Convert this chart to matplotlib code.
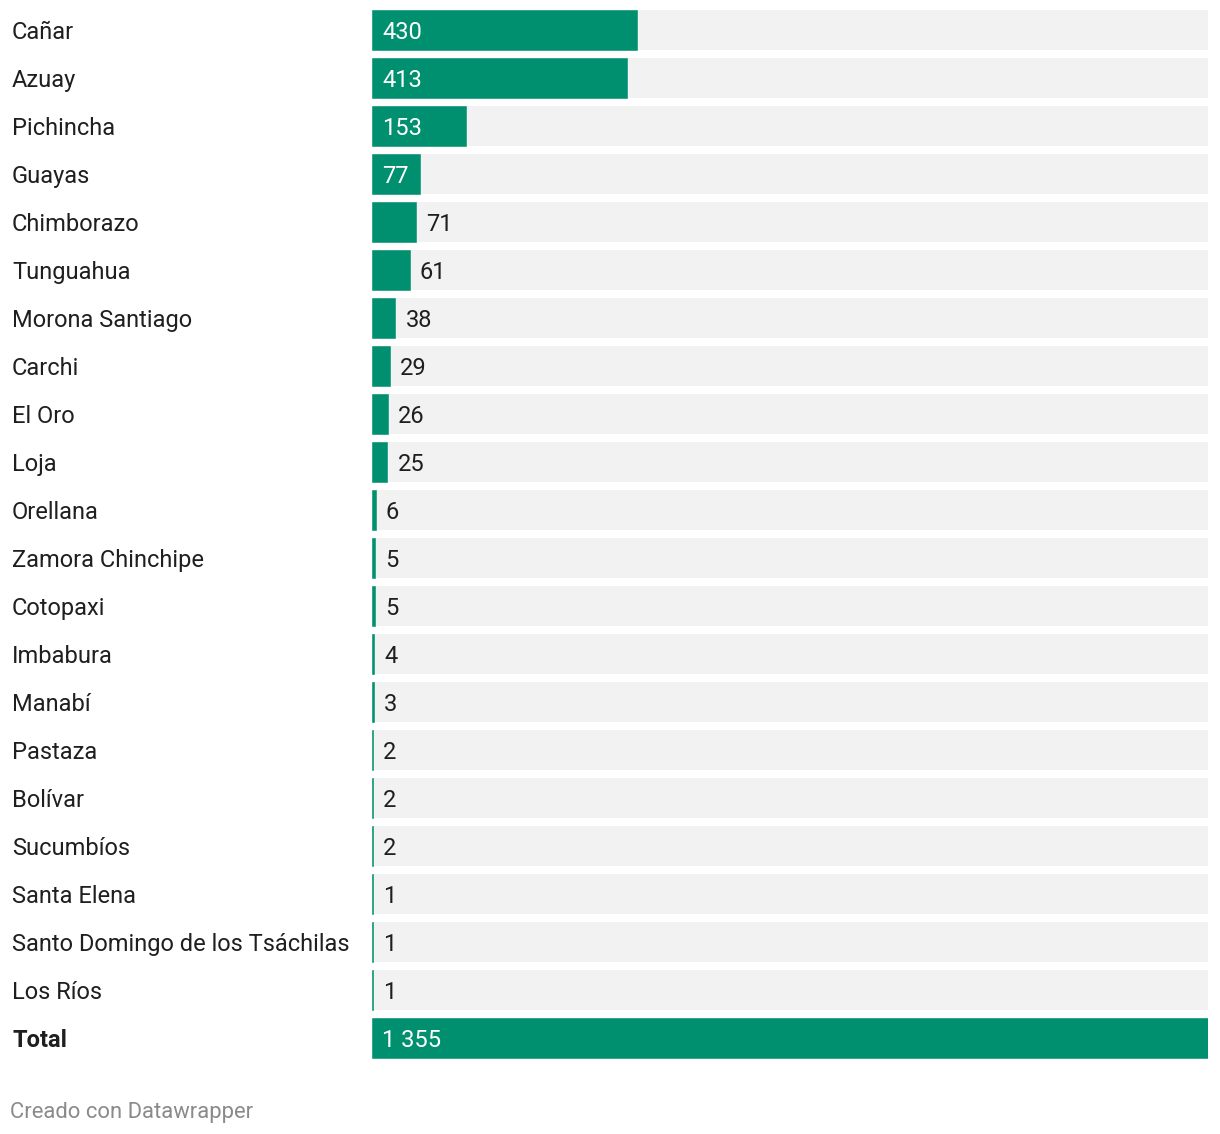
import numpy as np
import matplotlib
matplotlib.use("Agg")
import matplotlib.pyplot as plt

plt.rcParams['font.family'] = ['Roboto', 'DejaVu Sans']

# Datos: casos por provincia
provincias = ['Cañar', 'Azuay', 'Pichincha', 'Guayas', 'Chimborazo', 'Tunguahua',
              'Morona Santiago', 'Carchi', 'El Oro', 'Loja', 'Orellana',
              'Zamora Chinchipe', 'Cotopaxi', 'Imbabura', 'Manabí', 'Pastaza',
              'Bolívar', 'Sucumbíos', 'Santa Elena', 'Santo Domingo de los Tsáchilas',
              'Los Ríos', 'Total']
valores = [430, 413, 153, 77, 71, 61, 38, 29, 26, 25, 6, 5, 5, 4, 3, 2, 2, 2, 1, 1, 1, 1355]

verde = '#00906f'
fondo = '#f2f2f2'
texto = '#1f1f1f'

W, H = 1220, 1134
fig = plt.figure(figsize=(W / 100, H / 100), dpi=100)
# eje en coordenadas de pixeles
ax = fig.add_axes([372 / W, (H - 1062) / H, (1208 - 372) / W, 1056 / H])

n = len(valores)
y = np.arange(n)
vmax = max(valores)
alto = 40 / 48

ax.barh(y, [vmax] * n, height=alto, color=fondo, zorder=1)
ax.barh(y, valores, height=alto, color=verde, edgecolor=verde, linewidth=0.4, zorder=2)

ax.set_xlim(0, vmax)
ax.set_ylim(n - 0.5, -0.5)
ax.axis('off')

fs = 17
umbral = 0.055 * vmax
for i, v in enumerate(valores):
    etiqueta = f'{v:,}'.replace(',', ' ')
    if v >= umbral:
        ax.annotate(etiqueta, (0, i), xytext=(7.5, 0), textcoords='offset points',
                    va='center_baseline', ha='left', color='white', fontsize=fs, zorder=3)
    else:
        ax.annotate(etiqueta, (v, i), xytext=(7.2, 0), textcoords='offset points',
                    va='center_baseline', ha='left', color=texto, fontsize=fs, zorder=3)

# etiquetas de las categorias
for i, nombre in enumerate(provincias):
    yy = ax.transData.transform((0, i))[1]
    fig.text(12 / W, yy / H, nombre, va='center_baseline', ha='left', fontsize=fs, color=texto,
             fontweight='bold' if nombre == 'Total' else 'normal')

fig.text(10 / W, (H - 1110) / H, 'Creado con Datawrapper', va='center_baseline', ha='left',
         fontsize=15.8, color='#8a8a8a')

plt.savefig('out.png', dpi=100, facecolor='white')
